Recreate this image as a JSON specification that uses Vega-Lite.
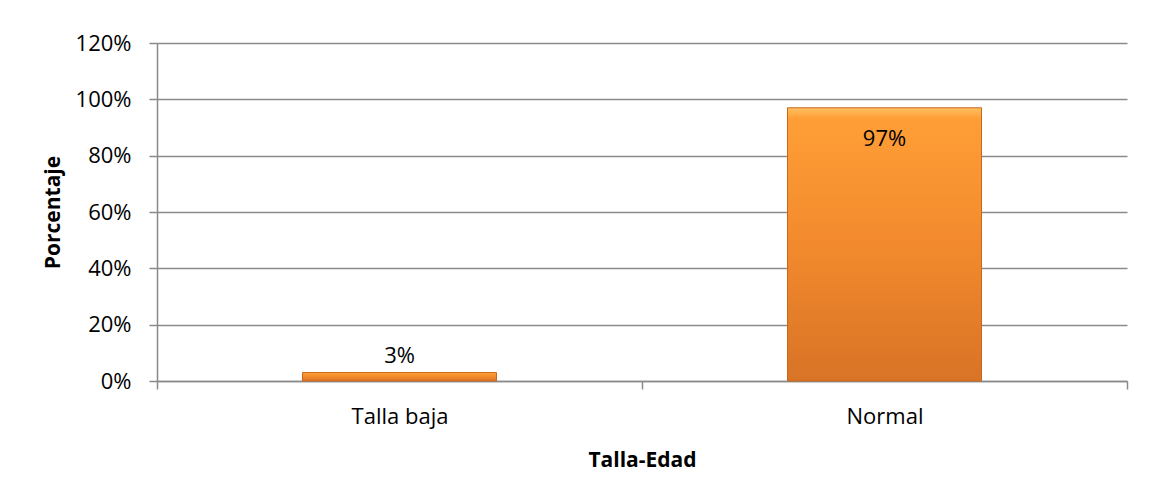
{
  "$schema": "https://vega.github.io/schema/vega-lite/v6.json",
  "width": 970,
  "height": 338,
  "autosize": {"type": "none"},
  "padding": {"left": 157, "top": 43, "right": 49, "bottom": 98},
  "background": "white",
  "config": {
    "view": {"stroke": null},
    "font": "Open Sans",
    "axis": {
      "labelFont": "Open Sans",
      "titleFont": "Open Sans",
      "labelFontSize": 22,
      "titleFontSize": 21,
      "labelColor": "#000000",
      "titleColor": "#000000",
      "titleFontWeight": "bold",
      "domainColor": "#8a8a8a",
      "tickColor": "#8a8a8a",
      "gridColor": "#8a8a8a",
      "domainWidth": 1.5,
      "tickWidth": 1.5,
      "gridWidth": 1.5,
      "tickSize": 8
    }
  },
  "data": {
    "values": [
      {"categoria": "Talla baja", "porcentaje": 0.03},
      {"categoria": "Normal", "porcentaje": 0.97}
    ]
  },
  "encoding": {
    "x": {
      "field": "categoria",
      "type": "nominal",
      "sort": ["Talla baja", "Normal"],
      "scale": {"paddingInner": 0, "paddingOuter": 0},
      "axis": {
        "title": "Talla-Edad",
        "labelAngle": 0,
        "tickBand": "extent",
        "labelPadding": 17,
        "titlePadding": 22,
        "grid": false
      }
    },
    "y": {
      "field": "porcentaje",
      "type": "quantitative",
      "scale": {"domain": [0, 1.2]},
      "axis": {
        "title": "Porcentaje",
        "format": ".0%",
        "values": [0, 0.2, 0.4, 0.6, 0.8, 1.0, 1.2],
        "labelPadding": 18,
        "titlePadding": 12,
        "grid": true
      }
    }
  },
  "layer": [
    {
      "mark": {
        "type": "bar",
        "width": {"band": 0.4},
        "stroke": "#c8681e",
        "strokeWidth": 1,
        "color": {
          "gradient": "linear",
          "x1": 0, "y1": 0, "x2": 0, "y2": 1,
          "stops": [
            {"offset": 0, "color": "#ffc061"},
            {"offset": 0.04, "color": "#ff9e36"},
            {"offset": 0.5, "color": "#f28a2d"},
            {"offset": 1, "color": "#d97326"}
          ]
        }
      }
    },
    {
      "transform": [{"filter": "datum.porcentaje < 0.5"}],
      "mark": {"type": "text", "baseline": "alphabetic", "dy": -10, "fontSize": 22, "font": "Open Sans", "color": "#000000"},
      "encoding": {"text": {"field": "porcentaje", "type": "quantitative", "format": ".0%"}}
    },
    {
      "transform": [{"filter": "datum.porcentaje >= 0.5"}],
      "mark": {"type": "text", "baseline": "alphabetic", "dy": 38, "fontSize": 22, "font": "Open Sans", "color": "#000000"},
      "encoding": {"text": {"field": "porcentaje", "type": "quantitative", "format": ".0%"}}
    }
  ]
}
